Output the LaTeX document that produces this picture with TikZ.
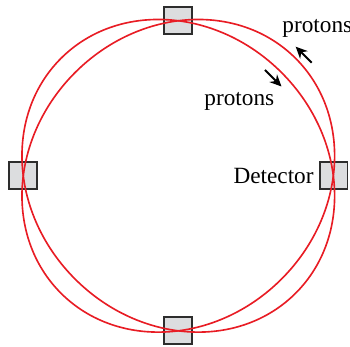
\documentclass[tikz,border=0pt]{standalone}
\usepackage{fontspec}
\setmainfont{Liberation Serif}
\usepackage{tikz}
\usetikzlibrary{positioning,arrows.meta}
\usepackage{xcolor}
\definecolor{cBeam}{RGB}{232,28,36}
\definecolor{cDet}{RGB}{220,221,223}
\definecolor{eDet}{RGB}{45,45,45}
\tikzset{
  det/.style    ={draw=eDet,fill=cDet,line width=0.8pt,inner sep=0pt,
                  minimum width=12pt,minimum height=11.6pt},
  ring/.style   ={draw=cBeam,line width=0.7pt},
  lbl/.style    ={font=\normalsize,inner sep=0pt},
  dir/.style    ={-{Stealth[length=5pt,width=4.6pt]},line width=0.9pt},
}

\begin{document}
\begin{tikzpicture}[x=0.43pt,y=-0.43pt]
\useasboundingbox (0,0) rectangle (350,347);

\coordinate (c) at (178.3,175.8);

% detectors
\node[det] (detT) at (178.3,20.8) {};
\node[det] (detB) at (178.3,330.8) {};
\node[det] (detL) at (23.0,175.8) {};
\node[det] (detR) at (333.6,175.8) {};

% the two beam rings
\draw[ring,rotate around={45:(c)}] (c) ellipse [x radius=166,y radius=146];
\draw[ring,rotate around={-45:(c)}] (c) ellipse [x radius=166,y radius=146];

\node[lbl,left=2pt of detR] (detlbl) {Detector};
\node[lbl,anchor=base west] (pout) at (282,33) {protons};
\node[lbl,anchor=base west] (pin) at (204,106) {protons};

\coordinate (aoutS) at (311.7,62.7);
\coordinate (aoutE) at (295.7,46.7);
\coordinate (ainS) at (265,70);
\coordinate (ainE) at (281.5,86.5);
\draw[dir] (aoutS) -- (aoutE);
\draw[dir] (ainS) -- (ainE);

\end{tikzpicture}
\end{document}
